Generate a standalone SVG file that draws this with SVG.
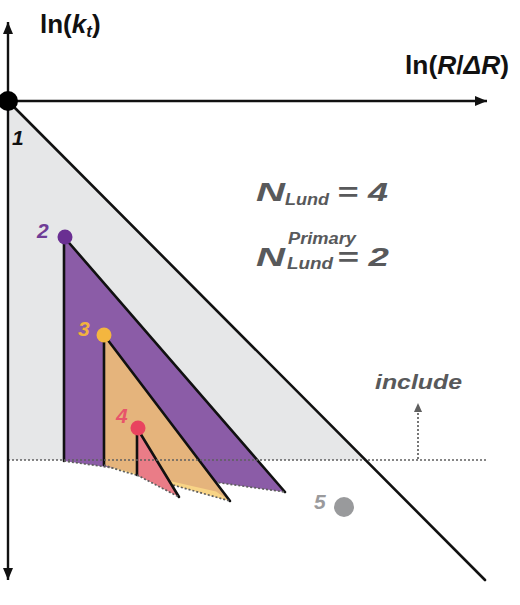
<svg xmlns="http://www.w3.org/2000/svg" width="520" height="605" viewBox="0 0 520 605">
<style>
.t{font-family:"Liberation Sans",Arial,sans-serif;font-weight:bold}
.i{font-style:italic}
.g{fill:#58595b}
.edge{stroke:#111;stroke-width:2.6;fill:none;stroke-linecap:round}
.ax{stroke:#111;stroke-width:2.4;fill:none}
.dotted{stroke:#5f5f5f;stroke-width:1.7;stroke-dasharray:2 2;fill:none}
</style>
<defs>
<marker id="ah" viewBox="0 0 12 12" refX="12" refY="6" markerWidth="12" markerHeight="12" markerUnits="userSpaceOnUse" orient="auto-start-reverse">
<path d="M0,1 L12,6 L0,11 z" fill="#111"/>
</marker>
<marker id="ahg" viewBox="0 0 10 10" refX="10" refY="5" markerWidth="10" markerHeight="9" markerUnits="userSpaceOnUse" orient="auto">
<path d="M0,0.5 L10,5 L0,9.5 z" fill="#5f5f5f"/>
</marker>
</defs>

<g id="primary-region">
<polygon points="8,101 366,460 8,460" fill="#e6e7e8"/>
</g>

<g id="emission-2">
<polygon points="64,237 285,492 64,461" fill="#8b5ca7"/>
<line class="edge" x1="64" y1="237" x2="64" y2="461"/>
<line class="edge" x1="64" y1="237" x2="285" y2="492"/>
<path class="dotted" d="M64,461 L285,492"/>
<circle cx="65" cy="237" r="7.5" fill="#6a2f92"/>
<text class="t i" x="37" y="238" font-size="21" fill="#6f3d96">2</text>
</g>

<g id="emission-3">
<polygon points="104,335 230,501 104,465" fill="#e5b47c"/>
<polygon points="104,466 216,491.5 230,501" fill="#f8d486"/>
<line class="edge" x1="104" y1="335" x2="104" y2="465"/>
<line class="edge" x1="104" y1="335" x2="230" y2="501"/>
<path class="dotted" d="M104,465 Q120,471 137,475 L230,501"/>
<circle cx="104" cy="335" r="7.5" fill="#f4b63f"/>
<text class="t i" x="78" y="336" font-size="21" fill="#f2b23e">3</text>
</g>

<g id="emission-4">
<polygon points="137,428 179,497 137,475" fill="#ea7c87"/>
<line class="edge" x1="137" y1="428" x2="137" y2="475"/>
<line class="edge" x1="137" y1="428" x2="179" y2="497"/>
<path class="dotted" d="M137,475 L179,497"/>
<circle cx="138" cy="428" r="7.5" fill="#e9435f"/>
<text class="t i" x="116" y="423" font-size="21" fill="#e8546a">4</text>
</g>

<g id="emission-5">
<circle cx="344" cy="507" r="10" fill="#999a9c"/>
<text class="t i" x="314" y="509" font-size="21" fill="#9a9a9c">5</text>
</g>

<g id="connectors">
<line class="dotted" x1="8" y1="460" x2="487" y2="460"/>
<line class="dotted" x1="418" y1="459" x2="418" y2="403" marker-end="url(#ahg)"/>
<line class="edge" x1="8" y1="101" x2="485" y2="580"/>
<line class="ax" x1="8" y1="580" x2="8" y2="22" marker-start="url(#ah)" marker-end="url(#ah)"/>
<line class="ax" x1="8" y1="101" x2="487" y2="101" marker-end="url(#ah)"/>
</g>

<g id="emission-1">
<circle cx="8" cy="101" r="10" fill="#000"/>
<text class="t i" x="12" y="145" font-size="21" fill="#111">1</text>
</g>

<g id="labels">
<text class="t" x="40" y="33" font-size="26" fill="#111">ln(<tspan class="i">k</tspan><tspan class="i" font-size="17" dy="4">t</tspan><tspan dy="-4">)</tspan></text>
<text class="t" x="405" y="74" font-size="26" fill="#111" textLength="104" lengthAdjust="spacingAndGlyphs">ln(<tspan class="i">R</tspan>/<tspan class="i">ΔR</tspan>)</text>

<text class="t i g" x="256" y="201" font-size="26" textLength="29" lengthAdjust="spacingAndGlyphs">N</text>
<text class="t i g" x="285" y="205" font-size="16" textLength="44" lengthAdjust="spacingAndGlyphs">Lund</text>
<text class="t i g" x="337" y="201" font-size="26" textLength="51" lengthAdjust="spacingAndGlyphs">= 4</text>

<text class="t i g" x="256" y="266" font-size="26" textLength="29" lengthAdjust="spacingAndGlyphs">N</text>
<text class="t i g" x="288" y="244" font-size="16" textLength="68" lengthAdjust="spacingAndGlyphs">Primary</text>
<text class="t i g" x="287" y="269" font-size="16" textLength="46" lengthAdjust="spacingAndGlyphs">Lund</text>
<text class="t i g" x="337" y="266" font-size="26" textLength="52" lengthAdjust="spacingAndGlyphs">= 2</text>

<text class="t i g" x="375" y="389" font-size="21" textLength="87" lengthAdjust="spacingAndGlyphs">include</text>
</g>
</svg>
